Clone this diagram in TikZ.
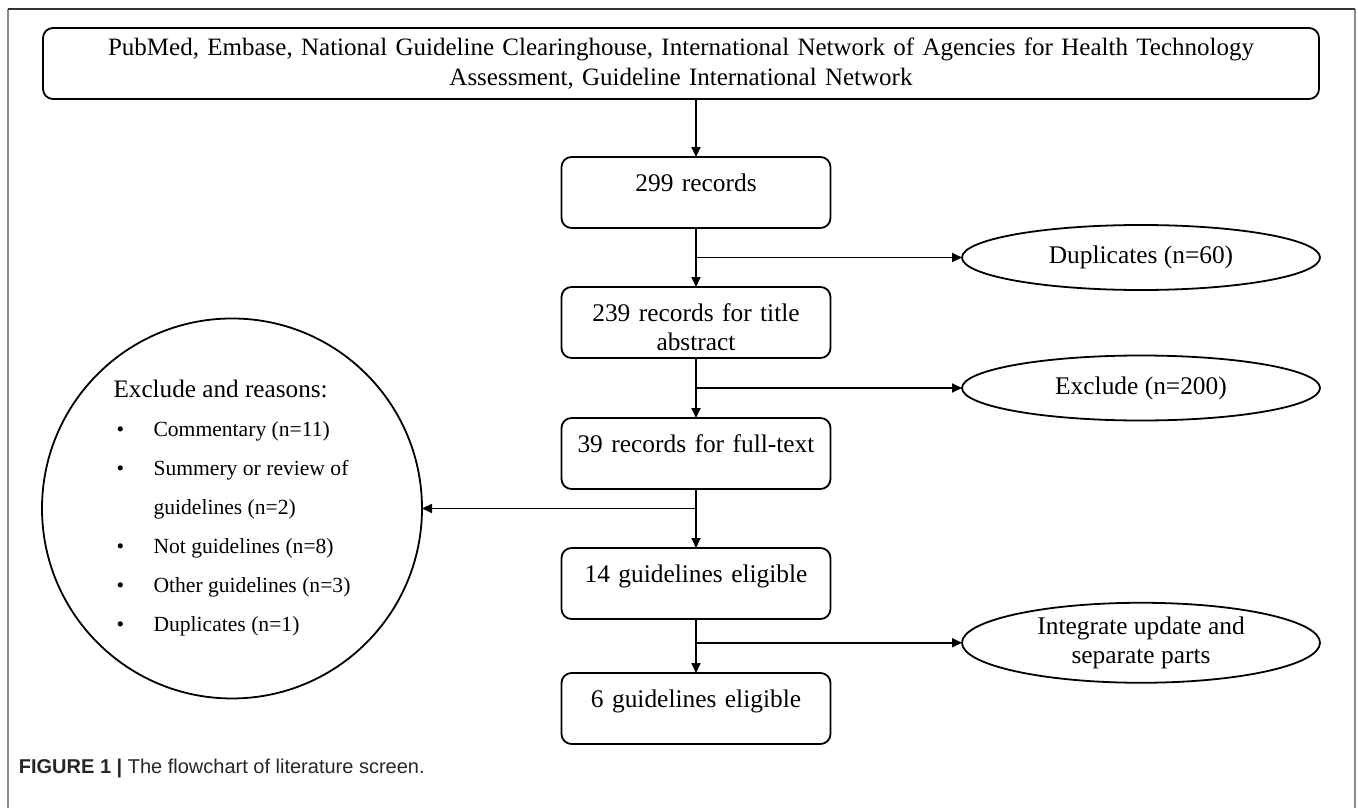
\documentclass[tikz,border=0pt]{standalone}
\usepackage{fontspec}
\setmainfont{Liberation Serif}
\setsansfont{Liberation Sans}
\usetikzlibrary{arrows.meta,positioning,shapes.geometric,calc}
\newcommand{\rsnitem}{\makebox[20pt][l]{\hspace{1.5pt}\textbullet}}

\begin{document}
\begin{tikzpicture}[x=0.5pt, y=-0.5pt, >={Triangle[length=5pt,width=4.5pt]},
  line width=0.9pt,
  src/.style={draw, rounded corners=5pt, minimum width=638pt, minimum height=35.5pt,
    text width=620pt, align=center, inner sep=0pt, outer sep=0pt,
    font=\fontsize{12.5}{15}\selectfont},
  box/.style={draw, rounded corners=5pt, text width=126.5pt, inner xsep=4pt,
    inner ysep=0pt, outer sep=0pt, align=center, text height=17.4pt, text depth=18.1pt,
    font=\fontsize{12.7}{14.5}\selectfont},
  drop/.style={draw, ellipse, minimum width=179pt, minimum height=32.5pt,
    inner sep=0pt, outer sep=0pt, align=center, font=\fontsize{12.7}{14.5}\selectfont},
  why/.style={draw, circle, minimum size=190pt, inner sep=0pt, outer sep=0pt,
    align=left, font=\fontsize{10.8}{19.5}\selectfont},
  figcap/.style={inner sep=0pt, text=black!85, font=\sffamily\fontsize{10}{12}\selectfont}]
\useasboundingbox (0,0) rectangle (1358,808);
\draw[black!45, line width=1.2pt] (8,808) -- (8,9) (1355,9) -- (1355,808);
\draw[black!80, line width=0.7pt] (8,9) -- (1355,9);

\node[src] (db) at (681,63.5) {PubMed, Embase, National Guideline Clearinghouse, International Network of Agencies for Health Technology\\Assessment, Guideline International Network};
\node[box, below=29pt of db, xshift=7.5pt] (n299) {299 records};
\node[box, below=29.5pt of n299] (n239) {239 records for title\\abstract};
\node[box, below=30pt of n239] (n39) {39 records for full-text};
\node[box, below=29.5pt of n39] (n14) {14 guidelines eligible};
\node[box, below=27pt of n14] (n6) {6 guidelines eligible};

\coordinate (j1) at ($(n299.south)!0.5!(n239.north)$);
\coordinate (j2) at ($(n239.south)!0.5!(n39.north)$);
\coordinate (j3) at ($(n39.south)!0.33!(n14.north)$);
\coordinate (j4) at ($(n14.south)!0.44!(n6.north)$);

\node[drop, right=133pt of j1] (dup) {Duplicates (n=60)};
\node[drop, right=133pt of j2] (exc) {Exclude (n=200)};
\node[drop, minimum height=40pt, right=133pt of j4] (intg) {Integrate update and\\separate parts};
\node[why, left=137pt of j3] (rsn) {{\fontsize{12.6}{18}\selectfont Exclude and reasons:}\\
\rsnitem Commentary (n=11)\\
\rsnitem Summery or review of\\
\hspace*{20pt}guidelines (n=2)\\
\rsnitem Not guidelines (n=8)\\
\rsnitem Other guidelines (n=3)\\
\rsnitem Duplicates (n=1)};

\draw[->] (db.south -| n299.north) -- (n299.north);
\draw[->] (n299) -- (n239);
\draw[->] (n239) -- (n39);
\draw[->] (n39) -- (n14);
\draw[->] (n14) -- (n6);
\draw[->] (j1) -- (dup);
\draw[->] (j2) -- (exc);
\draw[->] (j3) -- (rsn);
\draw[->] (j4) -- (intg);

\node[figcap, anchor=west] (capt) at (18,768) {\textbf{FIGURE 1 |} The flowchart of literature screen.};
\end{tikzpicture}
\end{document}
